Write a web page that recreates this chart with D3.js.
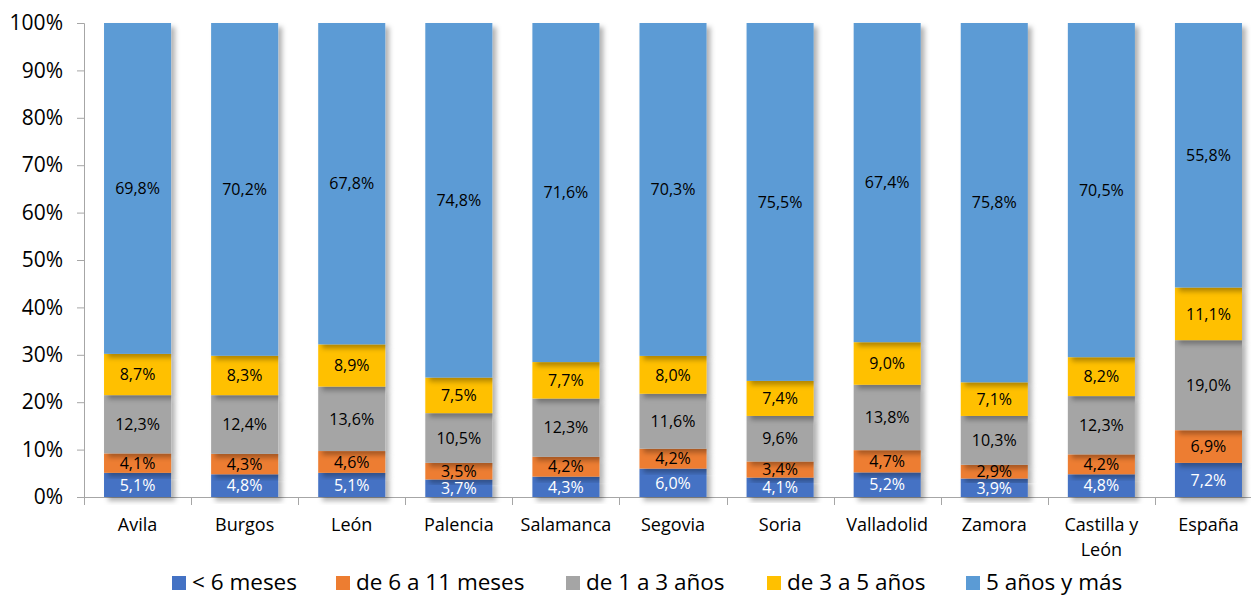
<!DOCTYPE html>
<html><head><meta charset="utf-8">
<script src="https://cdn.jsdelivr.net/npm/d3@7"></script>
<style>body{margin:0;background:#fff}svg{display:block;font-family:"Open Sans",sans-serif}</style>
</head><body><svg id="c" width="1251" height="596"></svg>
<script>
const categories = ["Avila","Burgos","León","Palencia","Salamanca","Segovia","Soria","Valladolid","Zamora","Castilla y León","España"];
const seriesNames = ["< 6 meses","de 6 a 11 meses","de 1 a 3 años","de 3 a 5 años","5 años y más"];
const seriesColors = ["#4472C4","#ED7D31","#A5A5A5","#FFC000","#5B9BD5"];
const lt6 = [5.1,4.8,5.1,3.7,4.3,6.0,4.1,5.2,3.9,4.8,7.2];
const m6to11 = [4.1,4.3,4.6,3.5,4.2,4.2,3.4,4.7,2.9,4.2,6.9];
const y1to3 = [12.3,12.4,13.6,10.5,12.3,11.6,9.6,13.8,10.3,12.3,19.0];
const y3to5 = [8.7,8.3,8.9,7.5,7.7,8.0,7.4,9.0,7.1,8.2,11.1];
const y5plus = [69.8,70.2,67.8,74.8,71.6,70.3,75.5,67.4,75.8,70.5,55.8];
const yTicks = [0,10,20,30,40,50,60,70,80,90,100];

const seriesValues = [lt6,m6to11,y1to3,y3to5,y5plus];
const rows = categories.map((c,i)=>{const o={cat:c};seriesNames.forEach((s,j)=>o[s]=seriesValues[j][i]);return o;});
const stack = d3.stack().keys(seriesNames).offset(d3.stackOffsetExpand)(rows);

const svg = d3.select("#c");
const L=84, R=1262, T=23, B=497;
const x = d3.scaleBand().domain(categories).range([L,R]).paddingInner(0.374).paddingOuter(0.187);
const y = d3.scaleLinear().domain([0,1]).range([B,T]);

const defs = svg.append("defs");
const f = defs.append("filter").attr("id","sh").attr("x","-20%").attr("y","-20%").attr("width","150%").attr("height","150%");
f.append("feDropShadow").attr("dx",4).attr("dy",4).attr("stdDeviation",2.5).attr("flood-color","#000").attr("flood-opacity",0.3);

// axes
const axisColor="#a6a6a6";
const yAxis = svg.append("g").attr("transform",`translate(${L},0)`)
  .call(d3.axisLeft(y).tickValues(yTicks.map(v=>v/100)).tickFormat(d=>Math.round(d*100)+"%").tickSize(7).tickPadding(14));
yAxis.select(".domain").attr("stroke",axisColor);
yAxis.selectAll(".tick line").attr("stroke",axisColor);
yAxis.selectAll("text").attr("font-size",21).attr("fill","#000").attr("font-family","Open Sans");

const xb = svg.append("g");
xb.append("line").attr("x1",L).attr("x2",R).attr("y1",B+0.5).attr("y2",B+0.5).attr("stroke",axisColor);
d3.range(categories.length+1).forEach(i=>{
  const xx = Math.round(L + i*x.step())+0.5;
  xb.append("line").attr("x1",xx).attr("x2",xx).attr("y1",B).attr("y2",B+8).attr("stroke",axisColor);
});
categories.forEach(c=>{
  const cx = x(c)+x.bandwidth()/2;
  const t = svg.append("text").attr("x",cx).attr("y",531).attr("text-anchor","middle").attr("font-size",18).attr("fill","#000");
  if(c==="Castilla y León"){
    t.append("tspan").attr("x",cx).text("Castilla y");
    t.append("tspan").attr("x",cx).attr("dy",25).text("León");
  } else t.text(c);
});

// bars
stack.forEach((s,si)=>{
  const g = svg.append("g");
  s.forEach((d,i)=>{
    g.append("rect").attr("x",x(categories[i])).attr("width",x.bandwidth())
      .attr("y",y(d[1])).attr("height",y(d[0])-y(d[1]))
      .attr("fill",seriesColors[si]).attr("filter","url(#sh)");
  });
});
stack.forEach((s,si)=>{
  s.forEach((d,i)=>{
    const v = seriesValues[si][i];
    svg.append("text").attr("x",x(categories[i])+x.bandwidth()/2).attr("y",(y(d[0])+y(d[1]))/2)
      .attr("dy","0.36em").attr("text-anchor","middle").attr("font-size",16)
      .attr("fill",si===0?"#fff":"#000").text(v.toFixed(1).replace(".",",")+"%");
  });
});

// legend
const legX = [172,336,566,767,966];
const lg = svg.append("g");
seriesNames.forEach((n,i)=>{
  lg.append("rect").attr("x",legX[i]).attr("y",576).attr("width",14).attr("height",14).attr("fill",seriesColors[i]);
  lg.append("text").attr("x",legX[i]+20).attr("y",582).attr("dy","0.36em").attr("font-size",22.5).attr("fill","#000").text(n);
});
</script></body></html>
